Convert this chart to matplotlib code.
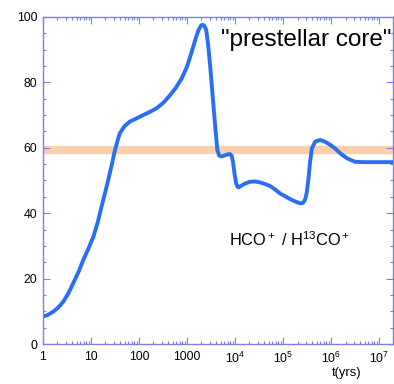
import numpy as np
import matplotlib
matplotlib.use("Agg")
import matplotlib.pyplot as plt
from matplotlib.ticker import FixedLocator, FixedFormatter, LogLocator, NullFormatter, MultipleLocator

plt.rcParams['font.family'] = ['Liberation Sans', 'DejaVu Sans']
plt.rcParams['mathtext.fontset'] = 'custom'
plt.rcParams['mathtext.rm'] = 'Liberation Sans'
plt.rcParams['mathtext.it'] = 'Liberation Sans'

# log10(t in years) and ratio values
log_t = [0.0, 0.10, 0.215, 0.32, 0.42, 0.53, 0.63, 0.74, 0.84, 0.95, 1.05, 1.14,
         1.22, 1.29, 1.36, 1.43, 1.49, 1.55, 1.60, 1.70, 1.81, 1.95, 2.09, 2.23,
         2.37, 2.51, 2.65, 2.77, 2.89, 3.00, 3.10, 3.18, 3.24, 3.29, 3.32, 3.36,
         3.40, 3.44, 3.48, 3.52, 3.55, 3.60, 3.63, 3.67, 3.72, 3.77, 3.83, 3.89,
         3.93, 3.96, 3.99, 4.02, 4.05, 4.08, 4.12, 4.20, 4.31, 4.42, 4.52, 4.63,
         4.73, 4.84, 4.94, 5.05, 5.15, 5.25, 5.32, 5.38, 5.42, 5.46, 5.49, 5.51,
         5.53, 5.56, 5.60, 5.67, 5.77, 5.88, 5.98, 6.09, 6.19, 6.33, 6.50, 6.70,
         7.30]
ratio = [8.4, 8.9, 9.9, 11.2, 12.9, 15.5, 18.6, 22.0, 25.7, 29.3, 32.8, 37.2,
         42.0, 46.0, 50.2, 54.6, 58.7, 62.0, 64.4, 66.6, 68.0, 69.0, 70.0, 71.0,
         72.1, 73.8, 76.1, 78.4, 81.2, 84.8, 89.4, 93.4, 96.0, 97.3, 97.6, 97.3,
         96.0, 91.5, 85.3, 78.5, 73.0, 64.4, 59.5, 57.6, 57.3, 57.6, 57.9, 58.1,
         57.6, 55.5, 52.0, 49.4, 48.1, 47.9, 48.3, 49.0, 49.6, 49.7, 49.4, 48.9,
         48.3, 47.2, 46.0, 45.1, 44.3, 43.6, 43.2, 43.0, 43.2, 44.2, 46.0, 48.2,
         50.5, 55.3, 59.8, 61.9, 62.4, 61.8, 60.9, 59.7, 58.3, 56.8, 55.7, 55.6,
         55.6]
observed_ratio = 59.3
xtick_vals = [1, 10, 100, 1000, 1e4, 1e5, 1e6, 1e7]
xtick_labels = ['1', '10', '100', '1000', r'$10^4$', r'$10^5$', r'$10^6$', r'$10^7$']
ytick_vals = [0, 20, 40, 60, 80, 100]

t = 10 ** np.array(log_t)

fig = plt.figure(figsize=(3.94, 3.84), dpi=100)
ax = fig.add_axes([0.109, 0.104, 0.8885, 0.852])

spine_col = '#7f7fe6'
ax.plot([1.07, 2e7], [observed_ratio, observed_ratio], color='#f9d0ab', lw=6, solid_capstyle='butt', zorder=1)
ax.plot(t, ratio, color='#2a6ef6', lw=2.8, zorder=2, solid_joinstyle='round', solid_capstyle='round')

ax.set_xscale('log')
ax.set_xlim(1, 1.95e7)
ax.set_ylim(0, 100)

ax.xaxis.set_major_locator(FixedLocator(xtick_vals))
ax.xaxis.set_major_formatter(FixedFormatter(xtick_labels))
ax.xaxis.set_minor_locator(LogLocator(base=10, subs=np.arange(2, 10), numticks=20))
ax.xaxis.set_minor_formatter(NullFormatter())
ax.yaxis.set_major_locator(FixedLocator(ytick_vals))
ax.yaxis.set_minor_locator(MultipleLocator(5))

for s in ax.spines.values():
    s.set_color(spine_col)
    s.set_linewidth(1.0)
ax.tick_params(which='both', direction='in', top=True, right=True, color=spine_col, width=0.8)
ax.tick_params(which='major', length=5, labelsize=8.8, pad=4)
ax.tick_params(which='minor', length=2.5)
ax.tick_params(axis='x', which='major', pad=5)

fig.text(221 / 394, 1 - 40 / 384, '"prestellar core"', fontsize=17.5,
         ha='left', va='center')
ax.text(229 / 394, 1 - 240 / 384, r'HCO$^+$ / H$^{13}$CO$^+$', transform=fig.transFigure,
        fontsize=11.8, ha='left', va='center')
fig.text(0.88, 0.028, 't(yrs)', fontsize=9.3, ha='center', va='center')

fig.savefig('out.png', dpi=100)
